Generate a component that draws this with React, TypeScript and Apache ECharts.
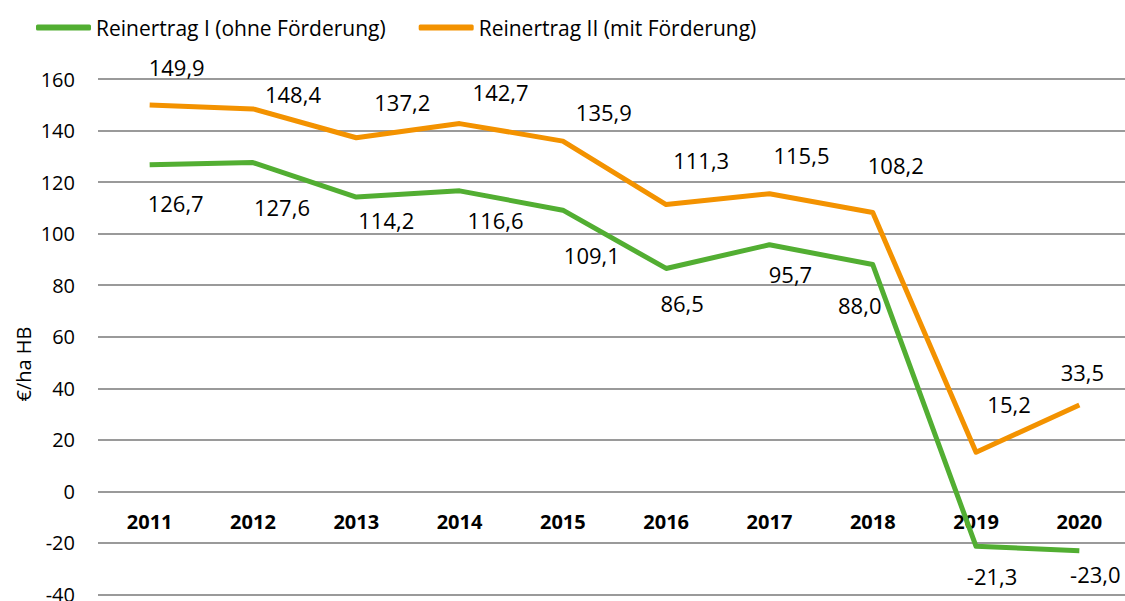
import React, { useEffect, useRef } from "react";
import * as echarts from "echarts";

const years = ["2011", "2012", "2013", "2014", "2015", "2016", "2017", "2018", "2019", "2020"];
const reinertragOhne = [126.7, 127.6, 114.2, 116.6, 109.1, 86.5, 95.7, 88.0, -21.3, -23.0];
const reinertragMit = [149.9, 148.4, 137.2, 142.7, 135.9, 111.3, 115.5, 108.2, 15.2, 33.5];
const seriesNames = ["Reinertrag I (ohne Förderung)", "Reinertrag II (mit Förderung)"];
const yTicks = { min: -40, max: 160, interval: 20 };
const axisName = "€/ha HB";

// label placement (pixel offsets from each point), styling only
const offsetsOhne: [number, number][] = [
  [26, 38], [29, 44], [30, 23], [36, 29], [29, 45], [16, 35], [21, 29], [-13, 40], [16, 30], [16, 23],
];
const offsetsMit: [number, number][] = [
  [27, -38], [40, -15], [46, -36], [41, -32], [41, -29], [35, -45], [32, -39], [23, -48], [33, -48], [3, -33],
];

const FONT = "'Open Sans', 'Noto Sans', sans-serif";
const GREEN = "#52ae32";
const ORANGE = "#f39200";
const GRID = "#9a9a9a";

const fmt = (v: number) => v.toFixed(1).replace(".", ",");

export default function App() {
  const ref = useRef<HTMLDivElement>(null);
  useEffect(() => {
    if (!ref.current) return;
    const chart = echarts.init(ref.current, undefined, { renderer: "svg" });
    const mk = (vals: number[], offs: [number, number][]) =>
      vals.map((v, i) => ({ value: v, label: { offset: offs[i] } }));
    const labelCommon = {
      show: true,
      position: "inside" as const,
      fontFamily: FONT,
      fontSize: 22,
      color: "#000",
      formatter: (p: any) => fmt(p.value),
    };
    chart.setOption({
      animation: false,
      textStyle: { fontFamily: FONT },
      legend: {
        left: 31,
        top: 12,
        itemWidth: 55,
        itemHeight: 6,
        itemGap: 33,
        icon: "roundRect",
        textStyle: { fontFamily: FONT, fontSize: 21, color: "#000" },
        data: seriesNames,
      },
      grid: {
        left: 98,
        right: -6,
        top: 79,
        bottom: 6.5,
        containLabel: false,
        outerBoundsMode: "none",
      },
      xAxis: {
        type: "category",
        data: years,
        position: "bottom",
        boundaryGap: true,
        axisLine: { show: false, onZero: false },
        axisTick: { show: false },
        axisLabel: { fontFamily: FONT, fontSize: 20, fontWeight: "bold", color: "#000", margin: -83 },
      },
      yAxis: {
        type: "value",
        min: yTicks.min,
        max: yTicks.max,
        interval: yTicks.interval,
        axisLine: { show: false },
        axisTick: { show: false },
        splitLine: { show: true, lineStyle: { color: GRID, width: 2 } },
        axisLabel: { fontFamily: FONT, fontSize: 20, color: "#000", margin: 23 },
      },
      graphic: [
        {
          type: "text",
          x: 23,
          y: 364,
          rotation: Math.PI / 2,
          style: {
            text: axisName,
            fontFamily: FONT,
            fontSize: 20,
            fill: "#000",
            align: "center",
            verticalAlign: "middle",
          },
        },
      ],
      series: [
        {
          name: seriesNames[0],
          type: "line",
          data: mk(reinertragOhne, offsetsOhne),
          symbol: "circle",
          symbolSize: 0,
          showSymbol: true,
          color: GREEN,
          lineStyle: { color: GREEN, width: 5, join: "round" },
          label: labelCommon,
          z: 3,
        },
        {
          name: seriesNames[1],
          type: "line",
          data: mk(reinertragMit, offsetsMit),
          symbol: "circle",
          symbolSize: 0,
          showSymbol: true,
          color: ORANGE,
          lineStyle: { color: ORANGE, width: 5, join: "round" },
          label: labelCommon,
          z: 4,
        },
      ],
    });
    return () => chart.dispose();
  }, []);
  return (
    <div
      ref={ref}
      style={{ position: "absolute", left: 0, top: 0, width: 1125, height: 601, background: "#fff" }}
    />
  );
}
